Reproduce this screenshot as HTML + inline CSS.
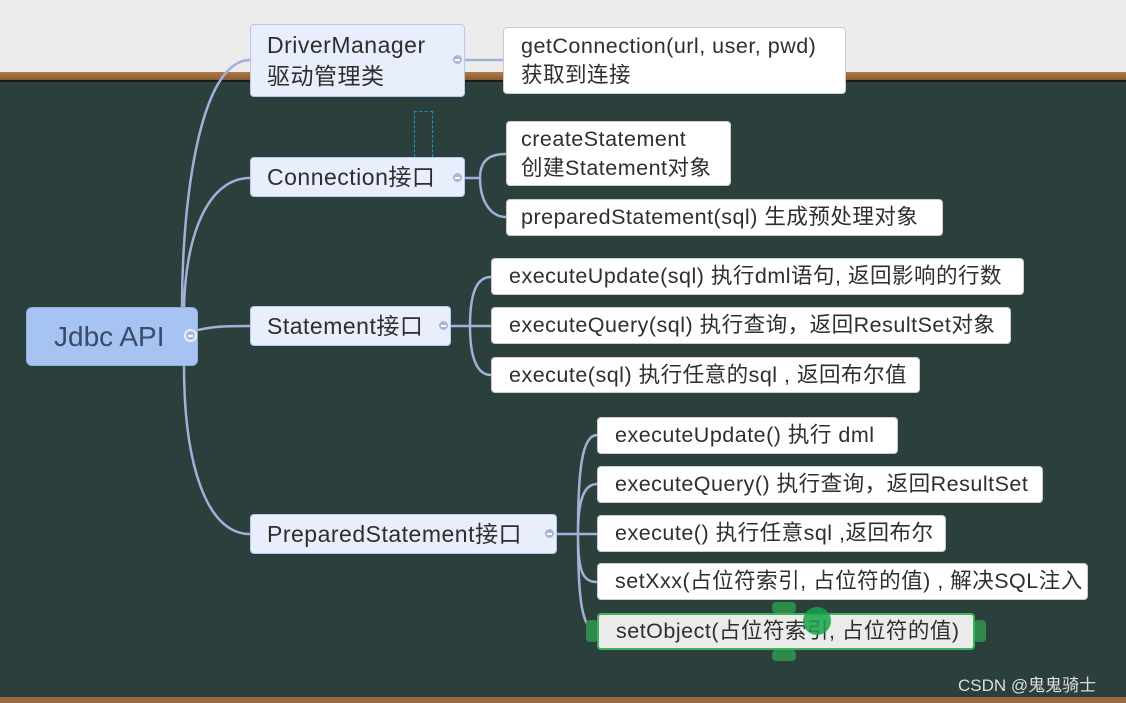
<!DOCTYPE html>
<html><head><meta charset="utf-8"><style>
*{margin:0;padding:0;box-sizing:border-box}
body{width:1126px;height:703px;overflow:hidden;position:relative;background:#2b403d;font-family:"Liberation Sans","Noto Sans CJK SC",sans-serif;}
.top{position:absolute;left:0;top:0;width:1126px;height:73px;background:#ececec}
.rail{position:absolute;left:0;top:72px;width:1126px;height:10px;background:linear-gradient(#b07a4a,#8a5a30);border-bottom:2px solid #1a1a1a}
.rail2{position:absolute;left:0;top:697px;width:1126px;height:6px;background:#9a6a40}
.b{position:absolute;font-size:21.5px;letter-spacing:0.5px;color:#2e2e2e;line-height:29px;padding-left:17px;display:flex;flex-direction:column;justify-content:center;border-radius:4px;white-space:nowrap}
.w{background:#fff;border:1px solid #ccc}
.p{background:#e8eefc;border:1px solid #b8c6ea;padding-left:16px;font-size:23px}
.h{position:absolute;width:13px;height:13px;border-radius:50%;background:#aab6d6;border:2px solid #e8eefc}
.h:after{content:"";position:absolute;left:2px;top:4px;width:5px;height:1.5px;background:#fff}
</style></head><body>
<div class="top"></div><div class="rail"></div><div class="rail2"></div>
<svg width="1126" height="703" style="position:absolute;left:0;top:0" fill="none" stroke="#a2b1d8" stroke-width="2.5">
<path d="M182 308 C182 200 200 60 250 60"/>
<path d="M184 308 C186 230 210 178 250 178"/>
<path d="M198 330 C215 326 230 326 250 326"/>
<path d="M184 366 C184 460 205 534 250 534"/>
<path d="M465 60 L503 60"/>
<path d="M465 178 L480 178 M480 178 C480 160 490 154 506 154 M480 178 C480 200 490 217 506 217"/>
<path d="M451 326 L491 326 M470 326 C470 290 478 277 491 277 M470 326 C470 360 478 375 491 375"/>
<path d="M557 534 L597 534 M578 534 C578 470 582 435 597 435 M578 534 C578 500 584 484 597 484 M578 534 C578 570 582 582 597 582 M578 534 C578 600 582 631 597 631"/>
</svg>
<div style="position:absolute;left:414px;top:111px;width:19px;height:46px;border:1px dashed #2a8fb8;border-bottom:none"></div>
<div class="b" style="left:26px;top:307px;width:172px;height:59px;background:#a7c3f2;border:1px solid #8faee0;font-size:28px;padding-left:27px;color:#3a4a6a;border-radius:6px;letter-spacing:0">Jdbc API</div>
<div class="h" style="left:184px;top:329px"></div>
<div class="b p" style="left:250px;top:24px;width:215px;height:73px;line-height:31px">DriverManager<span>驱动管理类</span></div>
<div class="h" style="left:451px;top:53px"></div>
<div class="b p" style="left:250px;top:157px;width:215px;height:40px">Connection接口</div>
<div class="h" style="left:451px;top:171px"></div>
<div class="b p" style="left:250px;top:306px;width:201px;height:40px">Statement接口</div>
<div class="h" style="left:437px;top:319px"></div>
<div class="b p" style="left:250px;top:514px;width:307px;height:40px">PreparedStatement接口</div>
<div class="h" style="left:543px;top:527px"></div>
<div class="b w" style="left:503px;top:27px;width:343px;height:67px">getConnection(url, user, pwd)<span>获取到连接</span></div>
<div class="b w" style="left:506px;top:121px;width:225px;height:65px;padding-left:14px">createStatement<span>创建Statement对象</span></div>
<div class="b w" style="left:506px;top:199px;width:437px;height:37px;padding-left:14px">preparedStatement(sql) 生成预处理对象</div>
<div class="b w" style="left:491px;top:258px;width:533px;height:37px">executeUpdate(sql) 执行dml语句, 返回影响的行数</div>
<div class="b w" style="left:491px;top:307px;width:520px;height:37px">executeQuery(sql) 执行查询，返回ResultSet对象</div>
<div class="b w" style="left:491px;top:357px;width:429px;height:36px">execute(sql) 执行任意的sql , 返回布尔值</div>
<div class="b w" style="left:597px;top:417px;width:301px;height:37px">executeUpdate() 执行 dml</div>
<div class="b w" style="left:597px;top:466px;width:446px;height:37px">executeQuery() 执行查询，返回ResultSet</div>
<div class="b w" style="left:597px;top:515px;width:349px;height:37px">execute() 执行任意sql ,返回布尔</div>
<div class="b w" style="left:597px;top:563px;width:491px;height:37px">setXxx(占位符索引, 占位符的值) , 解决SQL注入</div>
<div style="position:absolute;left:586px;top:620px;width:12px;height:22px;background:#2e8a4a;border-radius:4px"></div>
<div style="position:absolute;left:974px;top:620px;width:12px;height:22px;background:#2e8a4a;border-radius:4px"></div>
<div style="position:absolute;left:772px;top:602px;width:24px;height:11px;background:#2e8a4a;border-radius:4px"></div>
<div style="position:absolute;left:772px;top:650px;width:24px;height:11px;background:#2e8a4a;border-radius:4px"></div>
<div class="b" style="left:597px;top:613px;width:378px;height:37px;background:#ebebeb;border:2px solid #3cb45a">setObject(占位符索引, 占位符的值)</div>
<div style="position:absolute;left:803px;top:607px;width:28px;height:28px;border-radius:50%;background:#17a34a;opacity:.85"></div>
<div style="position:absolute;left:958px;top:671px;font-size:17px;color:#ddd">CSDN @鬼鬼骑士</div>
</body></html>
